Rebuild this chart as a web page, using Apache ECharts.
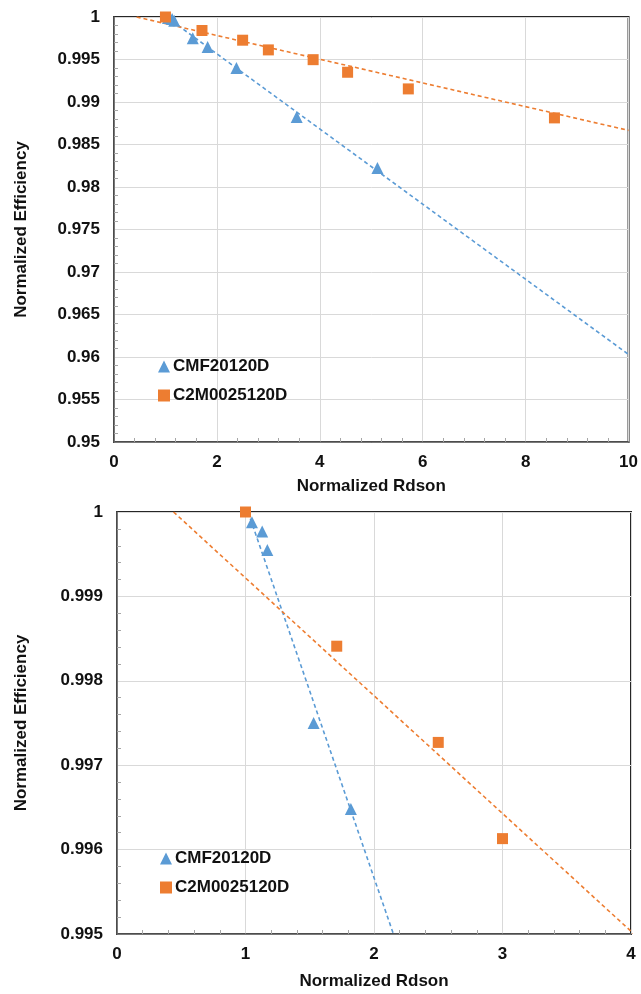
<!DOCTYPE html>
<html>
<head>
<meta charset="utf-8">
<script src="https://cdn.jsdelivr.net/npm/echarts@6/dist/echarts.min.js"></script>
<style>
html,body{margin:0;padding:0;background:#fff;}
#chart{width:641px;height:994px;}
</style>
</head>
<body>
<div id="chart"></div>
<script>
// ---- data ----
const seriesNames = ['CMF20120D', 'C2M0025120D'];
const cmfX = [1.05, 1.13, 1.17, 1.53, 1.82, 2.38, 3.55, 5.12];
const cmfY = [0.99988, 0.99977, 0.99955, 0.99750, 0.99648, 0.99400, 0.98824, 0.98225];
const c2mX = [1.0, 1.71, 2.5, 3.0, 3.87, 4.54, 5.72, 8.56];
const c2mY = [1.0, 0.99841, 0.99727, 0.99613, 0.99498, 0.99350, 0.99154, 0.98813];
// dashed trend lines (end points)
const cmfTrendX = [1.02, 10];
const cmfTrendY = [1.0, 0.9603];
const c2mTrendX = [0.44, 10];
const c2mTrendY = [1.0, 0.98666];
// axes
const topXTicks = [0, 2, 4, 6, 8, 10];
const topYTicks = [0.95, 0.955, 0.96, 0.965, 0.97, 0.975, 0.98, 0.985, 0.99, 0.995, 1];
const botXTicks = [0, 1, 2, 3, 4];
const botYTicks = [0.995, 0.996, 0.997, 0.998, 0.999, 1];
const xTitle = 'Normalized Rdson';
const yTitle = 'Normalized Efficiency';

const zip = (xs, ys) => xs.map((x, i) => [x, ys[i]]);
const BLUE = '#5B9BD5', ORANGE = '#ED7D31';
const FONT = 'Liberation Sans, Arial, sans-serif';
const TXT = '#111';

function xAxis(gi, ticks, gap) {
  return {
    type: 'value', gridIndex: gi,
    min: ticks[0], max: ticks[ticks.length - 1], interval: ticks[1] - ticks[0],
    name: xTitle, nameLocation: 'middle', nameGap: gap,
    nameTextStyle: { fontFamily: FONT, fontWeight: 'bold', fontSize: 17, color: TXT },
    axisLine: { show: true, lineStyle: { color: '#595959', width: 1.5 } },
    axisTick: { show: false, inside: true },
    minorTick: { show: true, splitNumber: 5, length: 4, lineStyle: { color: '#a6a6a6' } },
    axisLabel: { margin: 12, fontFamily: FONT, fontWeight: 'bold', fontSize: 17, color: TXT,
      formatter: v => String(+v.toFixed(4)) },
    splitLine: { show: true, lineStyle: { color: '#d9d9d9', width: 1 } }
  };
}
function yAxis(gi, ticks, gap) {
  return {
    type: 'value', gridIndex: gi,
    min: ticks[0], max: ticks[ticks.length - 1], interval: +(ticks[1] - ticks[0]).toFixed(6),
    name: yTitle, nameLocation: 'middle', nameGap: gap, nameRotate: 90,
    nameTextStyle: { fontFamily: FONT, fontWeight: 'bold', fontSize: 17, color: TXT },
    axisLine: { show: true, lineStyle: { color: '#595959', width: 1.5 } },
    axisTick: { show: false, inside: true },
    minorTick: { show: true, splitNumber: 5, length: 4, lineStyle: { color: '#a6a6a6' } },
    axisLabel: { margin: 14, fontFamily: FONT, fontWeight: 'bold', fontSize: 17, color: TXT,
      formatter: v => String(+v.toFixed(4)) },
    splitLine: { show: true, lineStyle: { color: '#d9d9d9', width: 1 } }
  };
}
function scatter(name, gi, data, symbol, color, size) {
  return { name: name, type: 'scatter', xAxisIndex: gi, yAxisIndex: gi, data: data,
    symbol: symbol, symbolSize: size, itemStyle: { color: color, opacity: 1 }, z: 5, clip: true };
}
function trend(gi, data, color) {
  return { name: 'trend', type: 'line', xAxisIndex: gi, yAxisIndex: gi, data: data,
    showSymbol: false, symbol: 'none', clip: true, silent: true,
    lineStyle: { color: color, width: 1.6, type: [4, 3] }, z: 3 };
}
function legend(left, top) {
  return {
    left: left, top: top, orient: 'vertical', itemGap: 12, itemWidth: 12, itemHeight: 12,
    textStyle: { fontFamily: FONT, fontWeight: 'bold', fontSize: 17, color: TXT, padding: [0, 0, 0, -2] },
    data: [{ name: seriesNames[0], icon: 'triangle' }, { name: seriesNames[1], icon: 'rect' }]
  };
}

const chart = echarts.init(document.getElementById('chart'), null, { renderer: 'canvas' });
chart.setOption({
  animation: false,
  backgroundColor: '#fff',
  grid: [
    { left: 114, top: 17, width: 515, height: 425, show: true, borderColor: '#262626', borderWidth: 2 },
    { left: 117, top: 512, width: 514, height: 422, show: true, borderColor: '#262626', borderWidth: 2 }
  ],
  legend: [legend(153, 353), legend(155, 845)],
  xAxis: [xAxis(0, topXTicks, 36), xAxis(1, botXTicks, 39)],
  yAxis: [yAxis(0, topYTicks, 84), yAxis(1, botYTicks, 87)],
  series: [
    trend(0, zip(cmfTrendX, cmfTrendY), BLUE),
    trend(0, zip(c2mTrendX, c2mTrendY), ORANGE),
    scatter(seriesNames[0], 0, zip(cmfX, cmfY), 'triangle', BLUE, 12),
    scatter(seriesNames[1], 0, zip(c2mX, c2mY), 'rect', ORANGE, 11),
    trend(1, zip(cmfTrendX, cmfTrendY), BLUE),
    trend(1, zip(c2mTrendX, c2mTrendY), ORANGE),
    scatter(seriesNames[0], 1, zip(cmfX, cmfY), 'triangle', BLUE, 12),
    scatter(seriesNames[1], 1, zip(c2mX, c2mY), 'rect', ORANGE, 11)
  ]
});
</script>
</body>
</html>
